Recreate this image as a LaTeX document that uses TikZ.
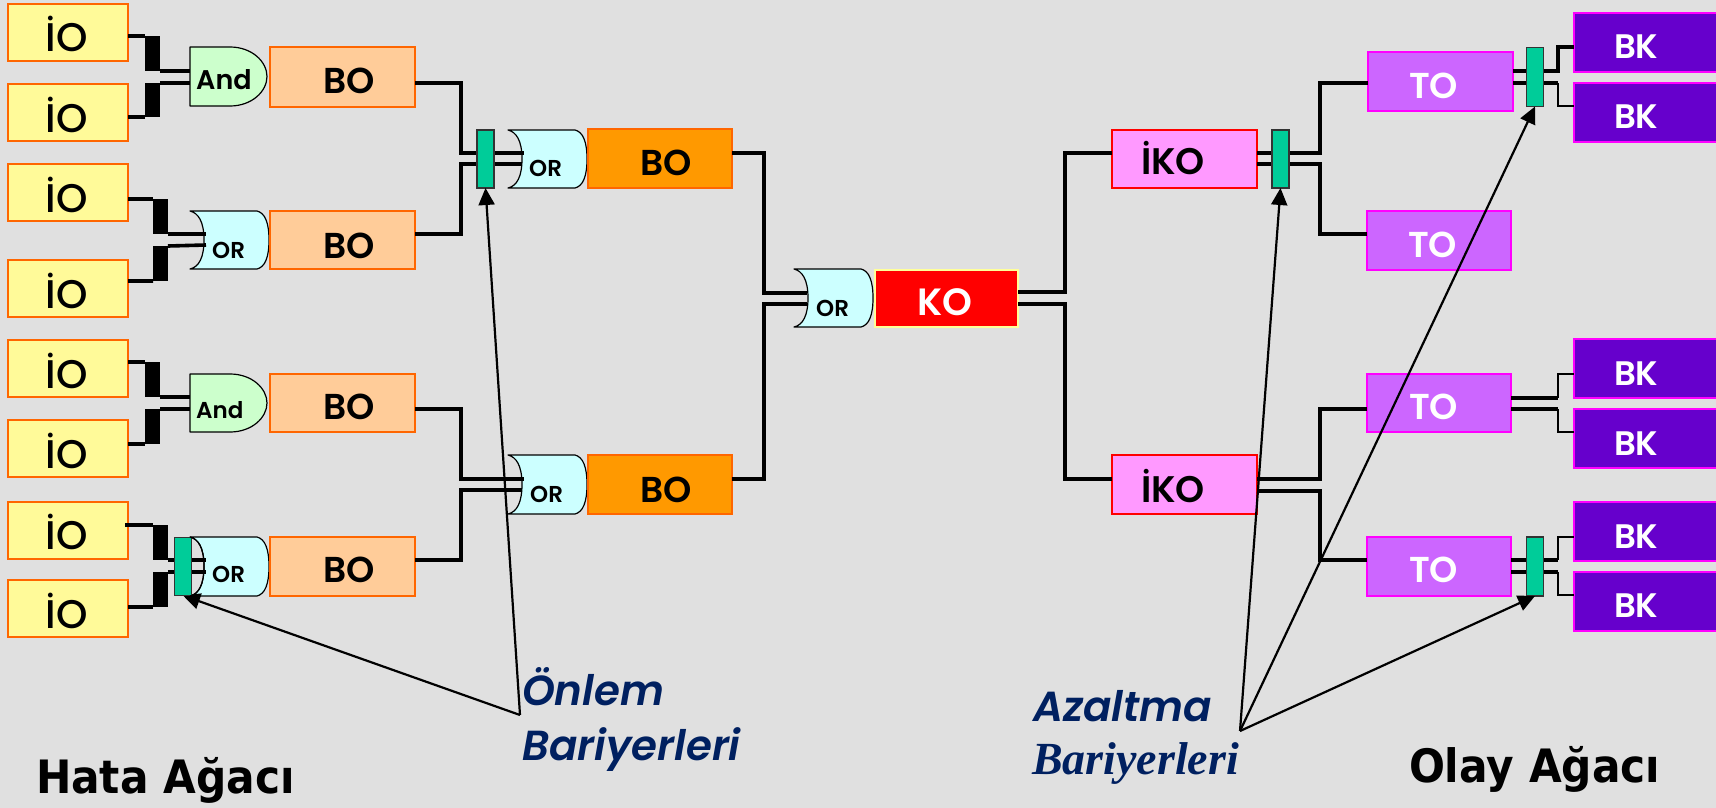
\documentclass[tikz,border=0pt]{standalone}
\usepackage{fontspec}
\usetikzlibrary{arrows.meta}
\setmainfont{Poppins}
\newfontfamily\gMed{Poppins Medium}
\newfontfamily\gSemi{Poppins SemiBold}
\newfontfamily\gItal{Poppins SemiBold Italic}
\newfontfamily\hBold[FakeStretch=0.92]{DejaVu Sans Bold}
\newfontfamily\sItal{Liberation Serif Bold Italic}
\definecolor{bgc}{HTML}{E0E0E0}
\definecolor{navyt}{HTML}{002060}
\definecolor{orgline}{HTML}{FF6600}
\definecolor{teal}{HTML}{00CC99}
\tikzset{
 x=1pt,y=-1pt,
 boxio/.style={draw=orgline,fill=yellow!40!white,line width=1.8pt,text=black,font=\gMed\fontsize{40}{40}\selectfont},
 boxbo/.style={draw=orgline,fill={rgb,255:red,255;green,204;blue,153},line width=1.8pt,text=black,font=\gSemi\fontsize{36}{36}\selectfont},
 boxor/.style={draw=orgline,fill={rgb,255:red,255;green,153;blue,0},line width=1.5pt,text=black,font=\gSemi\fontsize{36}{36}\selectfont},
 boxko/.style={draw={rgb,255:red,255;green,255;blue,153},fill=red,line width=1.5pt,text=white,font=\gSemi\fontsize{38}{38}\selectfont},
 boxik/.style={draw=red,fill={rgb,255:red,255;green,153;blue,255},line width=1.8pt,text=black,font=\gSemi\fontsize{37}{37}\selectfont},
 boxto/.style={draw={rgb,255:red,255;green,0;blue,255},fill={rgb,255:red,204;green,102;blue,255},line width=1.8pt,text=white,font=\gSemi\fontsize{36}{36}\selectfont},
 boxbk/.style={draw={rgb,255:red,255;green,0;blue,255},fill={rgb,255:red,102;green,0;blue,204},line width=1.8pt,text=white,font=\gSemi\fontsize{34}{34}\selectfont},
 andlab/.style={text=black,font=\gSemi\fontsize{27}{27}\selectfont},
 andsmall/.style={text=black,font=\gSemi\fontsize{23}{23}\selectfont},
 orlab/.style={text=black,font=\gSemi\fontsize{23}{23}\selectfont},
 gateline/.style={draw=black,line width=1.2pt,line join=round},
 barr/.style={draw={rgb,255:red,51;green,51;blue,51},fill=teal,line width=1.5pt,inner sep=0pt,outer sep=0pt},
 blk/.style={fill=black,inner sep=0pt,outer sep=0pt,anchor=north west,minimum width=15pt},
 wire/.style={draw=black,line width=3.6pt,line cap=butt,line join=miter},
 wirethin/.style={draw=black,line width=1.5pt,line join=miter},
 pointer/.style={draw=black,line width=2.2pt,-{Triangle[length=17pt,width=16pt]}},
 title/.style={inner sep=0pt,outer sep=0pt,anchor=base west,text=black,font=\hBold\fontsize{46}{46}\selectfont},
 note/.style={inner sep=0pt,outer sep=0pt,anchor=base west,text=navyt,font=\gItal\fontsize{42}{42}\selectfont},
 noteserif/.style={inner sep=0pt,outer sep=0pt,anchor=base west,text=navyt,font=\sItal\fontsize{46}{46}\selectfont},
}
% name, style, x1, y1, x2, y2, text left, baseline y, text
\newcommand\bx[9]{%
 \pgfmathsetmacro\wW{#5-#3}\pgfmathsetmacro\hH{#6-#8}\pgfmathsetmacro\dD{#8-#4}\pgfmathsetmacro\aA{#7-#3}%
 \node[#2,anchor=north west,inner sep=0pt,outer sep=0pt,align=left,text width=\wW pt,text height=\dD pt,text depth=\hH pt] (#1) at (#3,#4) {\hspace*{\aA pt}#9};}
\newcommand\orshape[3]{\path[gateline,fill={rgb,255:red,204;green,255;blue,255},shift={(#1,#2)}] (0,0) .. controls (8,2) and (14,10) .. (14,#3/2) .. controls (14,#3*0.8) and (9,#3-2) .. (0,#3) -- (67,#3) .. controls (75,#3-2) and (79,#3*0.8) .. (79,#3/2) .. controls (79,#3*0.2) and (75,2) .. (67,0) -- cycle;}
\newcommand\andshape[3]{\path[gateline,fill={rgb,255:red,204;green,255;blue,204},shift={(#1,#2)}] (0,0) -- (40,0) .. controls (62,0) and (77,#3*0.25) .. (77,#3/2) .. controls (77,#3*0.75) and (62,#3) .. (40,#3) -- (0,#3) -- cycle;}
\begin{document}
\begin{tikzpicture}
\useasboundingbox (0,0) rectangle (1716,808);
\fill[bgc] (0,0) rectangle (1716,808);

% gates
\andshape{190}{47}{59}
\orshape{190}{211}{58}
\andshape{190}{374}{58}
\orshape{190}{537}{59}
\orshape{508}{130}{58}
\orshape{508}{455}{59}
\orshape{794}{269}{58}
\node[andlab,inner sep=0pt,anchor=base west] (ga) at (196,89) {And};
\node[orlab,inner sep=0pt,anchor=base west] (gb) at (212,258) {OR};
\node[andsmall,inner sep=0pt,anchor=base west] (gc) at (196,418) {And};
\node[orlab,inner sep=0pt,anchor=base west] (gd) at (212,582) {OR};
\node[orlab,inner sep=0pt,anchor=base west] (ge) at (529,176) {OR};
\node[orlab,inner sep=0pt,anchor=base west] (gf) at (530,502) {OR};
\node[orlab,inner sep=0pt,anchor=base west] (gg) at (816,316) {OR};

% boxes
\bx{ioa}{boxio}{8}{4}{128}{61}{46}{52}{İO}
\bx{iob}{boxio}{8}{84}{128}{141}{46}{132}{İO}
\bx{ioc}{boxio}{8}{164}{128}{221}{46}{212}{İO}
\bx{iod}{boxio}{8}{260}{128}{317}{46}{308}{İO}
\bx{ioe}{boxio}{8}{340}{128}{397}{46}{388}{İO}
\bx{iof}{boxio}{8}{420}{128}{477}{46}{468}{İO}
\bx{iog}{boxio}{8}{502}{128}{559}{46}{549}{İO}
\bx{ioh}{boxio}{8}{580}{128}{637}{46}{628}{İO}
\bx{boa}{boxbo}{270}{47}{415}{107}{323}{93}{BO}
\bx{bob}{boxbo}{270}{211}{415}{269}{323}{258}{BO}
\bx{boc}{boxbo}{270}{374}{415}{432}{323}{419}{BO}
\bx{bod}{boxbo}{270}{537}{415}{596}{323}{582}{BO}
\bx{boe}{boxor}{588}{129}{732}{188}{640}{175}{BO}
\bx{bof}{boxor}{588}{455}{732}{514}{640}{502}{BO}
\bx{ko}{boxko}{875}{270}{1018}{327}{917}{315}{KO}
\bx{ika}{boxik}{1112}{130}{1257}{188}{1141}{174}{İKO}
\bx{ikb}{boxik}{1112}{455}{1257}{514}{1141}{502}{İKO}
\bx{toa}{boxto}{1368}{52}{1513}{111}{1409}{98}{TO}
\bx{tob}{boxto}{1367}{211}{1511}{270}{1408}{257}{TO}
\bx{toc}{boxto}{1367}{374}{1511}{432}{1409}{419}{TO}
\bx{tod}{boxto}{1367}{537}{1511}{596}{1409}{582}{TO}
\bx{bka}{boxbk}{1574}{13}{1722}{72}{1614}{59}{BK}
\bx{bkb}{boxbk}{1574}{83}{1722}{142}{1614}{128}{BK}
\bx{bkc}{boxbk}{1574}{339}{1722}{398}{1614}{385}{BK}
\bx{bkd}{boxbk}{1574}{409}{1722}{468}{1614}{455}{BK}
\bx{bke}{boxbk}{1574}{502}{1722}{561}{1614}{548}{BK}
\bx{bkf}{boxbk}{1574}{572}{1722}{631}{1614}{617}{BK}

% thick black blocks
\node[blk,minimum height=35pt] (ka) at (145,36) {};
\node[blk,minimum height=34pt] (kb) at (145,83) {};
\node[blk,minimum height=35pt] (kc) at (153,199) {};
\node[blk,minimum height=35pt] (kd) at (153,246) {};
\node[blk,minimum height=35pt] (ke) at (145,362) {};
\node[blk,minimum height=35pt] (kf) at (145,409) {};
\node[blk,minimum height=35pt] (kg) at (153,525) {};
\node[blk,minimum height=35pt] (kh) at (153,572) {};

% wire ends inside gates
\coordinate (pa) at (206,234); \coordinate (pb) at (206,245);
\coordinate (pc) at (206,560); \coordinate (pd) at (206,572);
\coordinate (pe) at (524,153); \coordinate (pf) at (522,164);
\coordinate (pg) at (524,479); \coordinate (ph) at (522,490);
\coordinate (pi) at (807,293); \coordinate (pj) at (807,304);

% inputs
\draw[wire] (ioa.east |- ka.north) -- (ka.north west) (ka.south east) -- (190,71);
\draw[wire] (iob.east |- kb.south) -- (kb.south west) (kb.north east) -- (190,83);
\draw[wire] (ioc.east |- kc.north) -- (kc.north west) (kc.south east) -- (pa);
\draw[wire] (iod.east |- kd.south) -- (kd.south west) (kd.north east) -- (pb);
\draw[wire] (ioe.east |- ke.north) -- (ke.north west) (ke.south east) -- (190,397);
\draw[wire] (iof.east |- kf.south) -- (kf.south west) (kf.north east) -- (190,409);
\draw[wire] (125,525) -- (kg.north west) (kg.south east) -- (pc);
\draw[wire] (ioh.east |- kh.south) -- (kh.south west) (kh.north east) -- (pd);
% left tree
\draw[wire] (boa.east |- 0,83) -- (461,83) -- (461,153) -- (pe);
\draw[wire] (bob.east |- 0,234) -- (461,234) -- (461,164) -- (pf);
\draw[wire] (boc.east |- 0,409) -- (461,409) -- (461,479) -- (pg);
\draw[wire] (bod.east |- 0,560) -- (461,560) -- (461,490) -- (ph);
\draw[wire] (boe.east |- 0,153) -- (764,153) -- (764,293) -- (pi);
\draw[wire] (bof.east |- 0,479) -- (764,479) -- (764,304) -- (pj);
% right tree
\draw[wire] (ko.east |- 0,292) -- (1065,292) -- (1065,153) -- (ika.west |- 0,153);
\draw[wire] (ko.east |- 0,304) -- (1065,304) -- (1065,479) -- (ikb.west |- 0,479);
\draw[wire] (ika.east |- 0,153) -- (1320,153) -- (1320,83) -- (toa.west |- 0,83);
\draw[wire] (ika.east |- 0,164) -- (1320,164) -- (1320,234) -- (tob.west |- 0,234);
\draw[wire] (ikb.east |- 0,479) -- (1320,479) -- (1320,409) -- (toc.west |- 0,409);
\draw[wire] (ikb.east |- 0,491) -- (1320,491) -- (1320,560) -- (tod.west |- 0,560);
\draw[wire] (toa.east |- 0,71) -- (1558,71) -- (1558,47) -- (bka.west |- 0,47);
\draw[wire] (toa.east |- 0,83) -- (1558,83);
\draw[wirethin] (1558,83) -- (1558,106) -- (bkb.west |- 0,106);
\draw[wire] (toc.east |- 0,398) -- (1558,398);
\draw[wire] (toc.east |- 0,409) -- (1558,409);
\draw[wirethin] (1558,398) -- (1558,374) -- (bkc.west |- 0,374);
\draw[wirethin] (1558,409) -- (1558,432) -- (bkd.west |- 0,432);
\draw[wire] (tod.east |- 0,560) -- (1558,560);
\draw[wire] (tod.east |- 0,572) -- (1558,572);
\draw[wirethin] (1558,560) -- (1558,537) -- (bke.west |- 0,537);
\draw[wirethin] (1558,572) -- (1558,595) -- (bkf.west |- 0,595);

% barrier positions
\node[barr,minimum width=17pt,minimum height=58pt] (ba) at (485.5,159) {};
\node[barr,minimum width=17pt,minimum height=58pt] (bb) at (183,566.5) {};
\node[barr,minimum width=17pt,minimum height=58pt] (bc) at (1280.5,159) {};
\node[barr,minimum width=17pt,minimum height=59pt] (bd) at (1535,77) {};
\node[barr,minimum width=17pt,minimum height=59pt] (be) at (1535,566.5) {};

% pointers
\coordinate (apl) at (520,715);
\coordinate (apr) at (1240,731);
\draw[pointer] (apl) -- (ba.south);
\draw[pointer] (apl) -- (bb.south);
\draw[pointer] (apr) -- (bc.south);
\draw[pointer] (apr) -- (bd.south);
\draw[pointer] (apr) -- (be.south);

% barrier over its pointer, gate curve and wires over the barrier
\node[barr,minimum width=17pt,minimum height=58pt] at (bb) {};
\draw[gateline,shift={(190,537)}] (0,0) .. controls (8,2) and (14,10) .. (14,29.5) .. controls (14,47) and (9,57) .. (0,59);
\draw[wire] (192,560) -- (pc) (192,572) -- (pd);

% captions
\node[title] (ha) at (36,793) {Hata Ağacı};
\node[title] (oa) at (1409,782) {Olay Ağacı};
\node[note] (na) at (522,705) {Önlem};
\node[note] (nb) at (522,760) {Bariyerleri};
\node[note] (nc) at (1033,721) {Azaltma};
\node[noteserif] (nd) at (1032,774) {Bariyerleri};
\end{tikzpicture}
\end{document}
